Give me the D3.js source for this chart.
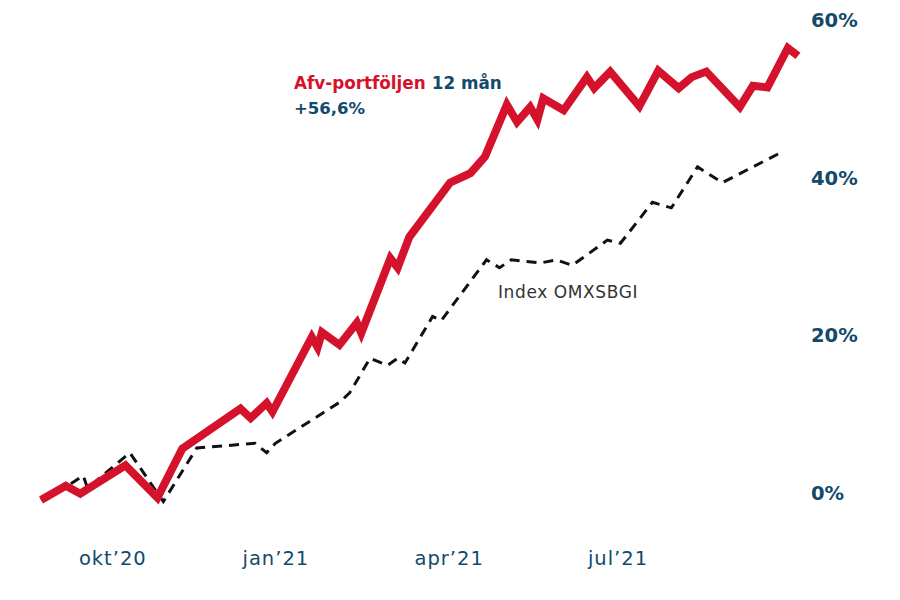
<!DOCTYPE html>
<html>
<head>
<meta charset="utf-8">
<script src="https://cdn.jsdelivr.net/npm/d3@7"></script>
<style>
  html, body { margin: 0; padding: 0; background: #ffffff; }
  svg { display: block; }
</style>
</head>
<body>
<svg id="chart" width="900" height="600"></svg>
<script>
// ---- data (x = weeks since start, y = return in %) ----
const portfolioWeeks = [0.0, 1.7, 2.7, 5.8, 8.0, 9.7, 13.7, 14.4, 15.5, 15.9, 18.6, 19.0, 19.3, 20.5, 21.7, 22.0, 24.0, 24.5, 25.3, 28.1, 29.5, 30.5, 32.0, 32.7, 33.6, 34.1, 34.5, 35.9, 37.5, 38.0, 39.1, 41.1, 42.4, 43.8, 44.7, 45.7, 48.0, 48.9, 49.9, 51.3, 52.0];
const portfolioValues = [-0.7, 1.1, 0.1, 3.7, -0.4, 5.8, 10.9, 9.7, 11.6, 10.5, 20.0, 18.7, 20.6, 19.0, 21.8, 20.5, 30.0, 28.8, 32.7, 39.6, 40.8, 42.9, 49.5, 47.3, 49.2, 47.6, 50.3, 48.8, 53.0, 51.6, 53.7, 49.3, 53.8, 51.6, 53.0, 53.7, 49.2, 51.9, 51.7, 56.7, 55.7];

const indexWeeks = [0.0, 2.0, 2.9, 3.2, 6.1, 8.4, 10.7, 14.7, 15.5, 16.1, 20.5, 21.2, 22.6, 23.8, 24.5, 25.0, 26.9, 27.5, 30.6, 31.5, 32.3, 34.3, 35.4, 36.5, 38.9, 39.8, 42.0, 43.3, 45.1, 46.8, 50.8];
const indexValues = [-0.7, 1.3, 2.4, 0.8, 5.3, -0.9, 5.9, 6.5, 5.3, 6.5, 11.7, 12.9, 17.3, 16.4, 17.3, 16.7, 22.6, 22.1, 29.8, 28.8, 29.8, 29.4, 29.8, 29.1, 32.3, 31.9, 37.1, 36.4, 41.6, 39.6, 43.4];

const xTickWeeks = [4.9, 16.1, 28.0, 39.6];
const xTickLabels = ["okt\u201920", "jan\u201921", "apr\u201921", "jul\u201921"];
const yTickValues = [0, 20, 40, 60];

const portfolioName = "Afv-portföljen";
const periodLabel = "12 mån";
const portfolioReturn = "+56,6%";
const indexName = "Index OMXSBGI";

// ---- styles ----
const RED = "#d5122b";
const BLUE = "#114a6b";
const FONT = "'DejaVu Sans', sans-serif";

const svg = d3.select("#chart");

const x = d3.scaleLinear().domain([0, 52]).range([41, 798]);
const y = d3.scaleLinear().domain([0, 60]).range([494.5, 22]);

const portfolio = portfolioWeeks.map((w, i) => ({ w, v: portfolioValues[i] }));
const index = indexWeeks.map((w, i) => ({ w, v: indexValues[i] }));

const line = d3.line().x(d => x(d.w)).y(d => y(d.v));

// index line (dashed, drawn below)
svg.append("path")
  .datum(index)
  .attr("d", line)
  .attr("fill", "none")
  .attr("stroke", "#111")
  .attr("stroke-width", 3)
  .attr("stroke-dasharray", "10,7")
  .attr("stroke-linejoin", "miter");

// portfolio line
svg.append("path")
  .datum(portfolio)
  .attr("d", line)
  .attr("fill", "none")
  .attr("stroke", RED)
  .attr("stroke-width", 8)
  .attr("stroke-linejoin", "miter")
  .attr("stroke-miterlimit", 3);

// y axis labels (right)
const yAxis = d3.axisRight(y).tickValues(yTickValues).tickFormat(d => d + "%").tickSize(0).tickPadding(0);
const gy = svg.append("g").attr("transform", "translate(811,-2)").call(yAxis);
gy.select(".domain").remove();
gy.selectAll("text")
  .attr("font-family", FONT)
  .attr("font-weight", 700)
  .attr("font-size", 19.5)
  .attr("fill", BLUE)
  .attr("dy", "0.35em");

// x axis labels (bottom)
const xAxis = d3.axisBottom(x).tickValues(xTickWeeks).tickFormat((d, i) => xTickLabels[i]).tickSize(0).tickPadding(0);
const gx = svg.append("g").attr("transform", "translate(0,558)").call(xAxis);
gx.select(".domain").remove();
gx.selectAll("text")
  .attr("font-family", FONT)
  .attr("font-weight", 400)
  .attr("font-size", 19.5)
  .attr("letter-spacing", 1)
  .attr("fill", BLUE)
  .attr("dy", "0.35em");

// legend / annotation
const title = svg.append("text")
  .attr("x", 294).attr("y", 89)
  .attr("font-family", FONT)
  .attr("font-weight", 700)
  .attr("font-size", 16.8);
title.append("tspan").attr("fill", RED).text(portfolioName);
title.append("tspan").attr("fill", BLUE).attr("dx", 6).text(periodLabel);

svg.append("text")
  .attr("x", 294).attr("y", 114)
  .attr("font-family", FONT)
  .attr("font-weight", 700)
  .attr("font-size", 16.5)
  .attr("fill", BLUE)
  .text(portfolioReturn);

svg.append("text")
  .attr("x", 498).attr("y", 298)
  .attr("font-family", FONT)
  .attr("font-weight", 400)
  .attr("font-size", 17)
  .attr("letter-spacing", 0.6)
  .attr("fill", "#333")
  .text(indexName);
</script>
</body>
</html>
